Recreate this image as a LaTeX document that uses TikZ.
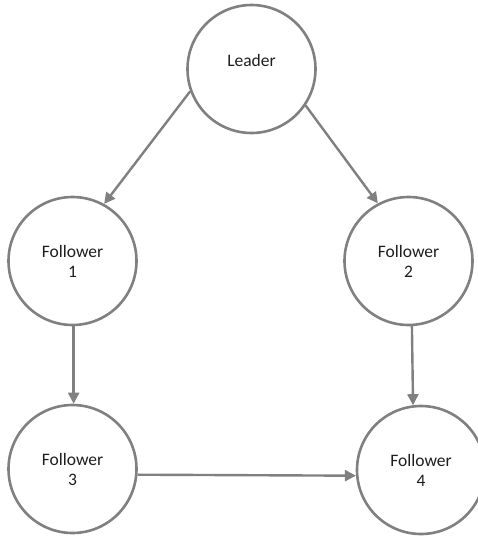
\documentclass[tikz,border=0pt]{standalone}
\usepackage{fontspec}
\setmainfont{Carlito}
\usetikzlibrary{arrows.meta}
\definecolor{edgegray}{RGB}{128,128,128}
\definecolor{txtgray}{RGB}{30,30,30}
\begin{document}
\begin{tikzpicture}[x=1pt,y=-1pt,
  agent/.style={circle, draw=edgegray, line width=2.6pt, minimum size=128pt, inner sep=0pt,
    font=\fontsize{17.5}{20}\selectfont, text=txtgray, align=center},
  arr/.style={draw=edgegray, line width=2.4pt, -{Triangle[length=11pt,width=11pt]}}]
\path[use as bounding box] (0,0) rectangle (478,538);
\node[agent] (L) at (251.5,69) {};
\node[font=\fontsize{17.5}{20}\selectfont, text=txtgray] (Lt) at (251.5,60) {Leader};
\node[agent] (F1) at (72.5,261) {Follower\\1};
\node[agent] (F2) at (408.5,261) {Follower\\2};
\node[agent] (F3) at (72.5,469) {Follower\\3};
\node[agent] (F4) at (421,470) {Follower\\4};
\draw[arr] (L.200) -- (F1.61);
\draw[arr] (L.326) -- (F2.118);
\draw[arr] (F1.-89) -- (F3.89);
\draw[arr] (F2.-87) -- (F4.97);
\draw[arr] (F3.-5) -- (F4.185);
\end{tikzpicture}
\end{document}
